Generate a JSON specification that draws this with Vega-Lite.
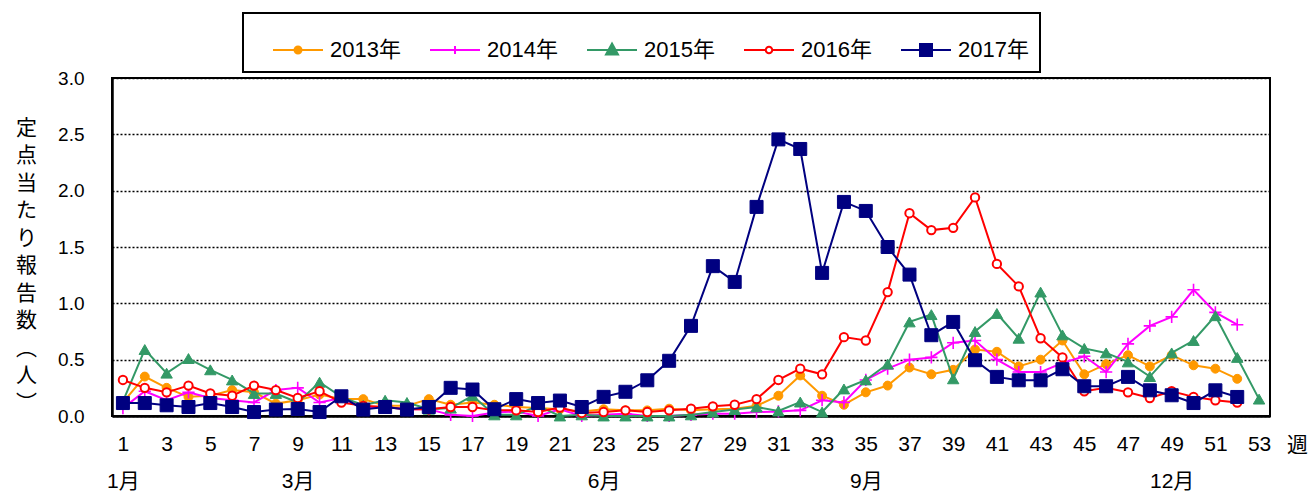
{
  "$schema": "https://vega.github.io/schema/vega-lite/v6.json",
  "width": 1158,
  "height": 338,
  "autosize": "none",
  "padding": {"left": 112, "top": 78, "right": 40, "bottom": 77},
  "background": "white",
  "config": {
    "font": "Liberation Sans, 'Noto Sans CJK JP', sans-serif",
    "view": {"stroke": "black", "strokeWidth": 2},
    "axis": {"labelColor": "black", "titleColor": "black", "labelFont": "Liberation Sans, 'Noto Sans CJK JP', sans-serif", "titleFont": "'Noto Sans CJK JP', sans-serif"}
  },
  "datasets": {
    "d": [
      {"w":1,"y":"2013年","v":0.12},{"w":2,"y":"2013年","v":0.35},{"w":3,"y":"2013年","v":0.25},{"w":4,"y":"2013年","v":0.17},{"w":5,"y":"2013年","v":0.18},{"w":6,"y":"2013年","v":0.23},{"w":7,"y":"2013年","v":0.21},{"w":8,"y":"2013年","v":0.11},{"w":9,"y":"2013年","v":0.14},{"w":10,"y":"2013年","v":0.19},{"w":11,"y":"2013年","v":0.15},{"w":12,"y":"2013年","v":0.15},{"w":13,"y":"2013年","v":0.09},{"w":14,"y":"2013年","v":0.09},{"w":15,"y":"2013年","v":0.15},{"w":16,"y":"2013年","v":0.10},{"w":17,"y":"2013年","v":0.12},{"w":18,"y":"2013年","v":0.10},{"w":19,"y":"2013年","v":0.08},{"w":20,"y":"2013年","v":0.07},{"w":21,"y":"2013年","v":0.06},{"w":22,"y":"2013年","v":0.04},{"w":23,"y":"2013年","v":0.06},{"w":24,"y":"2013年","v":0.05},{"w":25,"y":"2013年","v":0.05},{"w":26,"y":"2013年","v":0.065},{"w":27,"y":"2013年","v":0.05},{"w":28,"y":"2013年","v":0.06},{"w":29,"y":"2013年","v":0.065},{"w":30,"y":"2013年","v":0.09},{"w":31,"y":"2013年","v":0.18},{"w":32,"y":"2013年","v":0.36},{"w":33,"y":"2013年","v":0.18},{"w":34,"y":"2013年","v":0.10},{"w":35,"y":"2013年","v":0.21},{"w":36,"y":"2013年","v":0.27},{"w":37,"y":"2013年","v":0.43},{"w":38,"y":"2013年","v":0.37},{"w":39,"y":"2013年","v":0.41},{"w":40,"y":"2013年","v":0.59},{"w":41,"y":"2013年","v":0.57},{"w":42,"y":"2013年","v":0.44},{"w":43,"y":"2013年","v":0.50},{"w":44,"y":"2013年","v":0.67},{"w":45,"y":"2013年","v":0.37},{"w":46,"y":"2013年","v":0.46},{"w":47,"y":"2013年","v":0.54},{"w":48,"y":"2013年","v":0.44},{"w":49,"y":"2013年","v":0.54},{"w":50,"y":"2013年","v":0.45},{"w":51,"y":"2013年","v":0.42},{"w":52,"y":"2013年","v":0.33},
      {"w":1,"y":"2014年","v":0.07},{"w":2,"y":"2014年","v":0.22},{"w":3,"y":"2014年","v":0.14},{"w":4,"y":"2014年","v":0.21},{"w":5,"y":"2014年","v":0.16},{"w":6,"y":"2014年","v":0.14},{"w":7,"y":"2014年","v":0.12},{"w":8,"y":"2014年","v":0.23},{"w":9,"y":"2014年","v":0.25},{"w":10,"y":"2014年","v":0.12},{"w":11,"y":"2014年","v":0.16},{"w":12,"y":"2014年","v":0.075},{"w":13,"y":"2014年","v":0.08},{"w":14,"y":"2014年","v":0.06},{"w":15,"y":"2014年","v":0.06},{"w":16,"y":"2014年","v":0.01},{"w":17,"y":"2014年","v":0.0},{"w":18,"y":"2014年","v":0.03},{"w":19,"y":"2014年","v":0.04},{"w":20,"y":"2014年","v":0.0},{"w":21,"y":"2014年","v":0.06},{"w":22,"y":"2014年","v":0.0},{"w":23,"y":"2014年","v":0.01},{"w":24,"y":"2014年","v":0.02},{"w":25,"y":"2014年","v":0.0},{"w":26,"y":"2014年","v":0.0},{"w":27,"y":"2014年","v":0.01},{"w":28,"y":"2014年","v":0.02},{"w":29,"y":"2014年","v":0.02},{"w":30,"y":"2014年","v":0.035},{"w":31,"y":"2014年","v":0.04},{"w":32,"y":"2014年","v":0.05},{"w":33,"y":"2014年","v":0.14},{"w":34,"y":"2014年","v":0.12},{"w":35,"y":"2014年","v":0.32},{"w":36,"y":"2014年","v":0.42},{"w":37,"y":"2014年","v":0.50},{"w":38,"y":"2014年","v":0.52},{"w":39,"y":"2014年","v":0.65},{"w":40,"y":"2014年","v":0.67},{"w":41,"y":"2014年","v":0.50},{"w":42,"y":"2014年","v":0.39},{"w":43,"y":"2014年","v":0.39},{"w":44,"y":"2014年","v":0.47},{"w":45,"y":"2014年","v":0.53},{"w":46,"y":"2014年","v":0.39},{"w":47,"y":"2014年","v":0.64},{"w":48,"y":"2014年","v":0.80},{"w":49,"y":"2014年","v":0.88},{"w":50,"y":"2014年","v":1.12},{"w":51,"y":"2014年","v":0.92},{"w":52,"y":"2014年","v":0.81},
      {"w":1,"y":"2015年","v":0.13},{"w":2,"y":"2015年","v":0.59},{"w":3,"y":"2015年","v":0.38},{"w":4,"y":"2015年","v":0.51},{"w":5,"y":"2015年","v":0.41},{"w":6,"y":"2015年","v":0.32},{"w":7,"y":"2015年","v":0.20},{"w":8,"y":"2015年","v":0.20},{"w":9,"y":"2015年","v":0.12},{"w":10,"y":"2015年","v":0.30},{"w":11,"y":"2015年","v":0.17},{"w":12,"y":"2015年","v":0.095},{"w":13,"y":"2015年","v":0.14},{"w":14,"y":"2015年","v":0.12},{"w":15,"y":"2015年","v":0.06},{"w":16,"y":"2015年","v":0.07},{"w":17,"y":"2015年","v":0.18},{"w":18,"y":"2015年","v":0.01},{"w":19,"y":"2015年","v":0.01},{"w":20,"y":"2015年","v":0.09},{"w":21,"y":"2015年","v":0.0},{"w":22,"y":"2015年","v":0.01},{"w":23,"y":"2015年","v":0.0},{"w":24,"y":"2015年","v":0.0},{"w":25,"y":"2015年","v":0.0},{"w":26,"y":"2015年","v":0.0},{"w":27,"y":"2015年","v":0.01},{"w":28,"y":"2015年","v":0.035},{"w":29,"y":"2015年","v":0.057},{"w":30,"y":"2015年","v":0.08},{"w":31,"y":"2015年","v":0.044},{"w":32,"y":"2015年","v":0.124},{"w":33,"y":"2015年","v":0.035},{"w":34,"y":"2015年","v":0.24},{"w":35,"y":"2015年","v":0.32},{"w":36,"y":"2015年","v":0.46},{"w":37,"y":"2015年","v":0.835},{"w":38,"y":"2015年","v":0.90},{"w":39,"y":"2015年","v":0.33},{"w":40,"y":"2015年","v":0.75},{"w":41,"y":"2015年","v":0.91},{"w":42,"y":"2015年","v":0.69},{"w":43,"y":"2015年","v":1.10},{"w":44,"y":"2015年","v":0.72},{"w":45,"y":"2015年","v":0.60},{"w":46,"y":"2015年","v":0.56},{"w":47,"y":"2015年","v":0.48},{"w":48,"y":"2015年","v":0.35},{"w":49,"y":"2015年","v":0.56},{"w":50,"y":"2015年","v":0.67},{"w":51,"y":"2015年","v":0.89},{"w":52,"y":"2015年","v":0.52},{"w":53,"y":"2015年","v":0.15},
      {"w":1,"y":"2016年","v":0.32},{"w":2,"y":"2016年","v":0.25},{"w":3,"y":"2016年","v":0.21},{"w":4,"y":"2016年","v":0.27},{"w":5,"y":"2016年","v":0.20},{"w":6,"y":"2016年","v":0.18},{"w":7,"y":"2016年","v":0.27},{"w":8,"y":"2016年","v":0.23},{"w":9,"y":"2016年","v":0.16},{"w":10,"y":"2016年","v":0.22},{"w":11,"y":"2016年","v":0.12},{"w":12,"y":"2016年","v":0.09},{"w":13,"y":"2016年","v":0.08},{"w":14,"y":"2016年","v":0.06},{"w":15,"y":"2016年","v":0.06},{"w":16,"y":"2016年","v":0.08},{"w":17,"y":"2016年","v":0.08},{"w":18,"y":"2016年","v":0.05},{"w":19,"y":"2016年","v":0.05},{"w":20,"y":"2016年","v":0.035},{"w":21,"y":"2016年","v":0.075},{"w":22,"y":"2016年","v":0.027},{"w":23,"y":"2016年","v":0.035},{"w":24,"y":"2016年","v":0.05},{"w":25,"y":"2016年","v":0.035},{"w":26,"y":"2016年","v":0.05},{"w":27,"y":"2016年","v":0.065},{"w":28,"y":"2016年","v":0.086},{"w":29,"y":"2016年","v":0.10},{"w":30,"y":"2016年","v":0.15},{"w":31,"y":"2016年","v":0.32},{"w":32,"y":"2016年","v":0.42},{"w":33,"y":"2016年","v":0.37},{"w":34,"y":"2016年","v":0.70},{"w":35,"y":"2016年","v":0.67},{"w":36,"y":"2016年","v":1.10},{"w":37,"y":"2016年","v":1.80},{"w":38,"y":"2016年","v":1.65},{"w":39,"y":"2016年","v":1.67},{"w":40,"y":"2016年","v":1.94},{"w":41,"y":"2016年","v":1.35},{"w":42,"y":"2016年","v":1.15},{"w":43,"y":"2016年","v":0.69},{"w":44,"y":"2016年","v":0.52},{"w":45,"y":"2016年","v":0.22},{"w":46,"y":"2016年","v":0.25},{"w":47,"y":"2016年","v":0.21},{"w":48,"y":"2016年","v":0.16},{"w":49,"y":"2016年","v":0.22},{"w":50,"y":"2016年","v":0.17},{"w":51,"y":"2016年","v":0.14},{"w":52,"y":"2016年","v":0.12},
      {"w":1,"y":"2017年","v":0.115},{"w":2,"y":"2017年","v":0.115},{"w":3,"y":"2017年","v":0.095},{"w":4,"y":"2017年","v":0.08},{"w":5,"y":"2017年","v":0.115},{"w":6,"y":"2017年","v":0.08},{"w":7,"y":"2017年","v":0.035},{"w":8,"y":"2017年","v":0.057},{"w":9,"y":"2017年","v":0.062},{"w":10,"y":"2017年","v":0.035},{"w":11,"y":"2017年","v":0.175},{"w":12,"y":"2017年","v":0.057},{"w":13,"y":"2017年","v":0.08},{"w":14,"y":"2017年","v":0.057},{"w":15,"y":"2017年","v":0.08},{"w":16,"y":"2017年","v":0.25},{"w":17,"y":"2017年","v":0.235},{"w":18,"y":"2017年","v":0.06},{"w":19,"y":"2017年","v":0.15},{"w":20,"y":"2017年","v":0.115},{"w":21,"y":"2017年","v":0.137},{"w":22,"y":"2017年","v":0.08},{"w":23,"y":"2017年","v":0.17},{"w":24,"y":"2017年","v":0.215},{"w":25,"y":"2017年","v":0.317},{"w":26,"y":"2017年","v":0.49},{"w":27,"y":"2017年","v":0.80},{"w":28,"y":"2017年","v":1.33},{"w":29,"y":"2017年","v":1.19},{"w":30,"y":"2017年","v":1.856},{"w":31,"y":"2017年","v":2.455},{"w":32,"y":"2017年","v":2.37},{"w":33,"y":"2017年","v":1.27},{"w":34,"y":"2017年","v":1.90},{"w":35,"y":"2017年","v":1.82},{"w":36,"y":"2017年","v":1.50},{"w":37,"y":"2017年","v":1.255},{"w":38,"y":"2017年","v":0.717},{"w":39,"y":"2017年","v":0.835},{"w":40,"y":"2017年","v":0.495},{"w":41,"y":"2017年","v":0.347},{"w":42,"y":"2017年","v":0.317},{"w":43,"y":"2017年","v":0.317},{"w":44,"y":"2017年","v":0.415},{"w":45,"y":"2017年","v":0.264},{"w":46,"y":"2017年","v":0.264},{"w":47,"y":"2017年","v":0.347},{"w":48,"y":"2017年","v":0.228},{"w":49,"y":"2017年","v":0.184},{"w":50,"y":"2017年","v":0.115},{"w":51,"y":"2017年","v":0.228},{"w":52,"y":"2017年","v":0.169}
    ]
  },
  "data": {"name": "d"},
  "encoding": {
    "x": {
      "field": "w", "type": "quantitative",
      "scale": {"domain": [0.5, 53.5], "nice": false, "zero": false},
      "axis": {
        "values": [1,3,5,7,9,11,13,15,17,19,21,23,25,27,29,31,33,35,37,39,41,43,45,47,49,51,53],
        "labelExpr": "datum.value == 1 ? ['1','1月'] : datum.value == 9 ? ['9','3月'] : datum.value == 23 ? ['23','6月'] : datum.value == 35 ? ['35','9月'] : datum.value == 49 ? ['49','12月'] : datum.label",
        "labelFontSize": 21, "labelPadding": 17, "labelLineHeight": 37, "labelBaseline": "top",
        "labelOverlap": false, "labelFlush": false,
        "ticks": false, "grid": false, "domainColor": "black", "domainWidth": 2.5,
        "title": "週", "titleAngle": 0, "titleX": 1185, "titleY": 29, "titleBaseline": "middle", "titleAlign": "center",
        "titleFontSize": 21, "titleFontWeight": "normal"
      }
    },
    "y": {
      "field": "v", "type": "quantitative",
      "scale": {"domain": [0, 3], "nice": false},
      "axis": {
        "values": [0, 0.5, 1, 1.5, 2, 2.5, 3], "format": ".1f",
        "labelFontSize": 19, "labelPadding": 28, "ticks": false,
        "grid": true, "gridColor": "black", "gridDash": [2, 2], "gridWidth": 1.3,
        "domainColor": "black", "domainWidth": 2.5,
        "title": ["定","点","当","た","り","報","告","数","︵","人","︶"],
        "titleAngle": 0, "titleX": -86, "titleY": 39, "titleAlign": "center", "titleBaseline": "top",
        "titleFontSize": 21, "titleFontWeight": "normal", "titleLineHeight": 27.5
      }
    }
  },
  "layer": [
    {
      "transform": [{"filter": "datum.y === '2013年'"}],
      "mark": {"type": "line", "strokeWidth": 2},
      "encoding": {
        "color": {
          "field": "y", "type": "nominal",
          "scale": {"domain": ["2013年","2014年","2015年","2016年","2017年"], "range": ["#FF9900","#FF00FF","#339966","#FF0000","#000080"]},
          "legend": {
            "orient": "none", "legendX": 131, "legendY": -65, "direction": "horizontal", "columns": 5,
            "title": null, "symbolSize": 2500, "symbolOffset": 18, "labelOffset": 6, "columnPadding": 10,
            "padding": 11, "strokeColor": "black", "fillColor": "white", "labelFontSize": 22, "labelColor": "black",
            "labelFont": "Liberation Sans, 'Noto Sans CJK JP', sans-serif", "labelLimit": 0,
            "symbolStrokeWidth": 2,
            "encode": {
              "legend": {"update": {"strokeWidth": {"value": 2}}},
              "symbols": {"update": {
                "shape": {"signal": "datum.value === '2013年' ? 'M-1,0H1M-0.14,0A0.14,0.14 0 1,0 0.14,0A0.14,0.14 0 1,0 -0.14,0Z' : datum.value === '2014年' ? 'M-1,0H1M0,-0.16V0.16' : datum.value === '2015年' ? 'M-1,0H1M0,-0.26L0.24,0.18H-0.24Z' : datum.value === '2016年' ? 'M-1,0H-0.13M0.13,0H1M-0.13,0A0.13,0.13 0 1,0 0.13,0A0.13,0.13 0 1,0 -0.13,0Z' : 'M-1,0H1M-0.24,-0.24H0.24V0.24H-0.24Z'"},
                "fill": {"signal": "datum.value === '2014年' ? 'transparent' : datum.value === '2016年' ? 'white' : scale('color', datum.value)"},
                "stroke": {"signal": "scale('color', datum.value)"},
                "strokeWidth": {"value": 2},
                "size": {"value": 2500},
                "opacity": {"value": 1}
              }}
            }
          }
        }
      }
    },
    {
      "transform": [{"filter": "datum.y === '2013年'"}],
      "mark": {"type": "point", "shape": "circle", "filled": true, "fill": "#FF9900", "stroke": "#FF9900", "strokeWidth": 1, "size": 80, "opacity": 1}
    },
    {
      "transform": [{"filter": "datum.y === '2014年'"}],
      "mark": {"type": "line", "strokeWidth": 2},
      "encoding": {"color": {"field": "y", "type": "nominal", "legend": null}}
    },
    {
      "transform": [{"filter": "datum.y === '2014年'"}],
      "mark": {"type": "point", "shape": "M-1,0H1M0,-1V1", "filled": false, "fill": "transparent", "stroke": "#FF00FF", "strokeWidth": 1.6, "size": 150, "opacity": 1}
    },
    {
      "transform": [{"filter": "datum.y === '2015年'"}],
      "mark": {"type": "line", "strokeWidth": 2},
      "encoding": {"color": {"field": "y", "type": "nominal", "legend": null}}
    },
    {
      "transform": [{"filter": "datum.y === '2015年'"}],
      "mark": {"type": "point", "shape": "triangle-up", "filled": true, "fill": "#339966", "stroke": "#339966", "strokeWidth": 1, "size": 130, "opacity": 1}
    },
    {
      "transform": [{"filter": "datum.y === '2016年'"}],
      "mark": {"type": "line", "strokeWidth": 2},
      "encoding": {"color": {"field": "y", "type": "nominal", "legend": null}}
    },
    {
      "transform": [{"filter": "datum.y === '2016年'"}],
      "mark": {"type": "point", "shape": "circle", "filled": true, "fill": "#FFFFFF", "stroke": "#FF0000", "strokeWidth": 2, "size": 70, "opacity": 1}
    },
    {
      "transform": [{"filter": "datum.y === '2017年'"}],
      "mark": {"type": "line", "strokeWidth": 2},
      "encoding": {"color": {"field": "y", "type": "nominal", "legend": null}}
    },
    {
      "transform": [{"filter": "datum.y === '2017年'"}],
      "mark": {"type": "point", "shape": "square", "filled": true, "fill": "#000080", "stroke": "#000080", "strokeWidth": 1, "size": 169, "opacity": 1}
    }
  ]
}
